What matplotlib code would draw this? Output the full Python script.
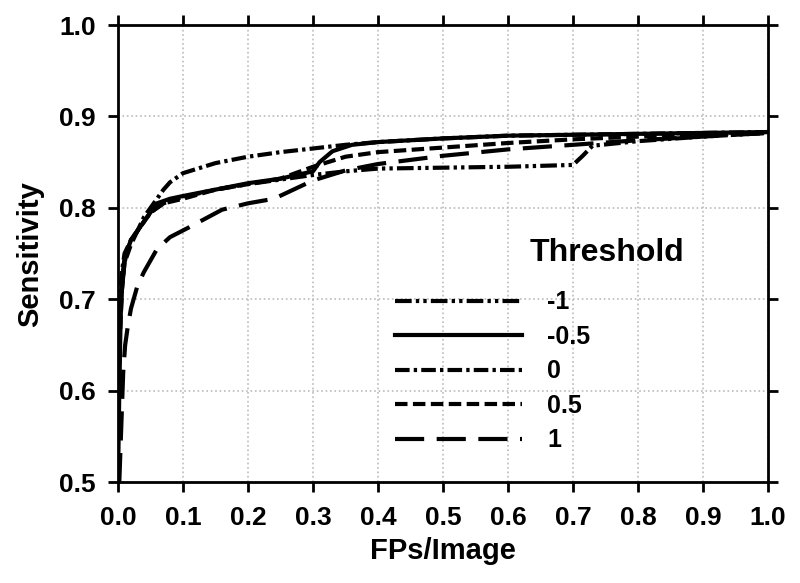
import matplotlib
matplotlib.use("Agg")
import matplotlib.pyplot as plt

plt.rcParams['font.family'] = ['Liberation Sans', 'DejaVu Sans']
plt.rcParams['font.weight'] = 'bold'

# FP/image vs sensitivity, one curve per threshold
fp_m1 = [0, 0.003, 0.006, 0.01, 0.02, 0.03, 0.05, 0.07, 0.1, 0.15, 0.2, 0.25, 0.3, 0.35,
         0.4, 0.5, 0.6, 0.7, 0.715, 0.73, 0.8, 0.9, 1.0]
sens_m1 = [0.57, 0.67, 0.72, 0.745, 0.765, 0.775, 0.795, 0.805, 0.812, 0.82, 0.826, 0.831,
           0.836, 0.84, 0.843, 0.844, 0.845, 0.847, 0.857, 0.868, 0.873, 0.878, 0.882]

fp_m05 = [0, 0.002, 0.004, 0.006, 0.01, 0.015, 0.02, 0.03, 0.04, 0.05, 0.06, 0.08, 0.1, 0.15,
          0.2, 0.25, 0.3, 0.31, 0.33, 0.36, 0.4, 0.5, 0.6, 0.7, 0.8, 0.9, 1.0]
sens_m05 = [0.5, 0.6, 0.68, 0.71, 0.74, 0.755, 0.765, 0.775, 0.785, 0.795, 0.805, 0.81, 0.813,
            0.82, 0.827, 0.832, 0.84, 0.85, 0.862, 0.869, 0.872, 0.876, 0.879, 0.88, 0.881,
            0.882, 0.883]

fp_0 = [0, 0.003, 0.006, 0.01, 0.02, 0.03, 0.04, 0.05, 0.06, 0.07, 0.08, 0.1, 0.15, 0.2, 0.25,
        0.3, 0.35, 0.4, 0.5, 0.6, 0.7, 0.8, 0.9, 1.0]
sens_0 = [0.6, 0.7, 0.73, 0.75, 0.765, 0.775, 0.79, 0.8, 0.81, 0.82, 0.828, 0.838, 0.849, 0.856,
          0.861, 0.865, 0.869, 0.872, 0.876, 0.879, 0.88, 0.881, 0.882, 0.883]

fp_05 = [0, 0.003, 0.006, 0.01, 0.02, 0.03, 0.05, 0.07, 0.1, 0.15, 0.2, 0.25, 0.3, 0.35, 0.4,
         0.5, 0.6, 0.7, 0.8, 0.9, 1.0]
sens_05 = [0.55, 0.66, 0.71, 0.74, 0.76, 0.775, 0.795, 0.805, 0.81, 0.82, 0.826, 0.832, 0.845,
           0.856, 0.861, 0.866, 0.871, 0.875, 0.878, 0.88, 0.882]

fp_1 = [0.002, 0.005, 0.008, 0.011, 0.015, 0.02, 0.03, 0.04, 0.06, 0.08, 0.11, 0.16, 0.2, 0.24,
        0.27, 0.3, 0.35, 0.4, 0.5, 0.6, 0.7, 0.8, 0.9, 1.0]
sens_1 = [0.5, 0.56, 0.62, 0.65, 0.67, 0.69, 0.715, 0.73, 0.755, 0.768, 0.779, 0.798, 0.805,
          0.81, 0.82, 0.83, 0.841, 0.848, 0.857, 0.864, 0.869, 0.874, 0.878, 0.882]

labels = ['-1', '-0.5', '0', '0.5', '1']
xticks = [0.0, 0.1, 0.2, 0.3, 0.4, 0.5, 0.6, 0.7, 0.8, 0.9, 1.0]
yticks = [0.5, 0.6, 0.7, 0.8, 0.9, 1.0]

fig = plt.figure(figsize=(8, 5.83), dpi=100)
ax = fig.add_axes([0.1475, 0.173, 0.8125, 0.784])

lw = 3
ax.plot(fp_m1, sens_m1, color='black', lw=lw, dashes=(4, 1, 0.8, 1, 0.8, 1), label=labels[0])
ax.plot(fp_m05, sens_m05, color='black', lw=lw, label=labels[1])
ax.plot(fp_0, sens_0, color='black', lw=lw, dashes=(3.5, 1, 0.8, 1), label=labels[2])
ax.plot(fp_05, sens_05, color='black', lw=lw, dashes=(3, 1.3), label=labels[3])
ax.plot(fp_1, sens_1, color='black', lw=lw, dashes=(7, 3), label=labels[4])

ax.set_xlim(0, 1)
ax.set_ylim(0.5, 1.0)
ax.set_xticks(xticks)
ax.set_yticks(yticks)
ax.set_xticklabels(['%.1f' % v for v in xticks], fontsize=19, fontweight='bold')
ax.set_yticklabels(['%.1f' % v for v in yticks], fontsize=19, fontweight='bold')
ax.tick_params(direction='out', length=7, width=2, top=True, right=True)
ax.tick_params(axis='x', pad=10)
ax.tick_params(axis='y', pad=9)
ax.grid(True, color='#bbbbbb', linestyle=':', linewidth=1.2)
for s in ax.spines.values():
    s.set_linewidth(2)

ax.set_xlabel('FPs/Image', fontsize=21, fontweight='bold', labelpad=5)
ax.set_ylabel('Sensitivity', fontsize=21, fontweight='bold', labelpad=11)

leg = ax.legend(loc='lower left', bbox_to_anchor=(0.426, 0.065), frameon=False,
                borderpad=0, borderaxespad=0, handlelength=5.1, fontsize=18,
                labelspacing=0.42, handletextpad=1.0)
ax.text(0.634, 0.501, 'Threshold', transform=ax.transAxes, fontsize=23,
        fontweight='bold', ha='left', va='center')

fig.savefig('out.png', dpi=100)
